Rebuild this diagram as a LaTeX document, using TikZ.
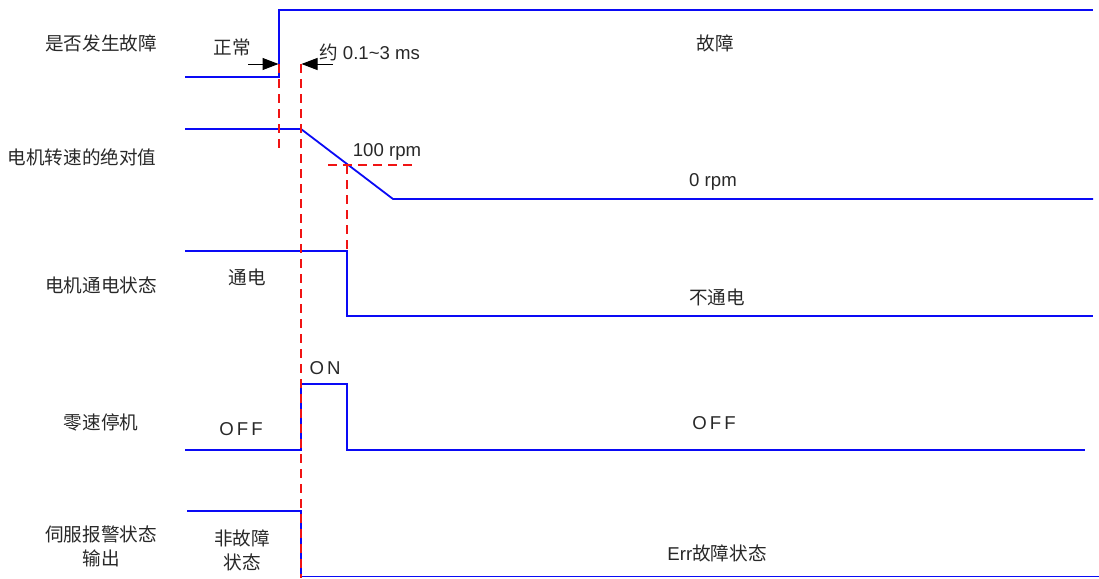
\documentclass[tikz,border=0pt]{standalone}
\usepackage{fontspec}
\setmainfont{Liberation Sans}
\newfontfamily\cjk{Noto Sans CJK SC}
\usetikzlibrary{arrows.meta}
\definecolor{sigblue}{RGB}{10,10,245}
\definecolor{guidered}{RGB}{240,20,20}
\definecolor{txt}{RGB}{40,40,40}
\tikzset{
  sig/.style={draw=sigblue, line width=1.8pt, line join=miter},
  guide/.style={draw=guidered, line width=1.2pt, dash pattern=on 9pt off 6pt},
  lbl/.style={text=txt, inner sep=0pt, font=\cjk\fontsize{18.6}{22}\selectfont},
  val/.style={text=txt, inner sep=0pt, font=\fontsize{18.6}{22}\selectfont},
  marker/.style={draw=black, line width=1pt, -{Triangle[length=16pt,width=12pt]}}
}
\begin{document}
\begin{tikzpicture}[x=1pt,y=-1pt]
\useasboundingbox (0,0) rectangle (1099,578);

% row labels
\node[lbl] (l1) at (101,43) {是否发生故障};
\node[lbl] (l2) at (82,157) {电机转速的绝对值};
\node[lbl] (l3) at (101,285) {电机通电状态};
\node[lbl] (l4) at (101,422) {零速停机};
\node[lbl, align=center] (l5) at (101,546) {伺服报警状态\\[2pt]输出};

% signals
\draw[sig] (185,77) -- (279,77) -- (279,10) -- (1093,10);
\draw[sig] (185,129) -- (301,129) -- (393,199) -- (1093,199);
\draw[sig] (185,251) -- (347,251) -- (347,316) -- (1093,316);
\draw[sig] (185,450) -- (301,450) -- (301,384) -- (347,384) -- (347,450) -- (1085,450);
\draw[sig] (187,511) -- (301,511) -- (301,576.5) -- (1099,576.5);

% guides
\coordinate (g1a) at (279,64); \coordinate (g1b) at (279,150);
\coordinate (g2a) at (301,64); \coordinate (g2b) at (301,578);
\coordinate (g3a) at (347,165); \coordinate (g3b) at (347,251);
\coordinate (h1a) at (328,165); \coordinate (h1b) at (416,165);
\draw[guide] (g1a) -- (g1b);
\draw[guide] (g2a) -- (g2b);
\draw[guide] (g3a) -- (g3b);
\draw[guide] (h1a) -- (h1b);

% arrows
\coordinate (a1s) at (248,64); \coordinate (a1e) at (278.5,64);
\coordinate (a2s) at (333,64); \coordinate (a2e) at (301.5,64);
\draw[marker] (a1s) -- (a1e);
\draw[marker] (a2s) -- (a2e);

% texts
\node[lbl] (t1) at (232,47) {正常};
\node[val, anchor=west] (t2) at (319,52) {{\cjk 约} 0.1\textasciitilde3 ms};
\node[lbl] (t3) at (715,43) {故障};
\node[val] (t4) at (387,152) {100 rpm};
\node[val] (t5) at (713,182) {0 rpm};
\node[lbl] (t6) at (247,277) {通电};
\node[lbl] (t7) at (717,297) {不通电};
\node[val] (t8) at (325,368) {O\,N};
\node[val] (t9) at (241,429) {O\,F\,F};
\node[val] (t10) at (714,423) {O\,F\,F};
\node[lbl, align=center] (t11) at (242,550) {非故障\\[2pt]状态};
\node[val] (t12) at (717,553) {Err{\cjk 故障状态}};
\end{tikzpicture}
\end{document}
